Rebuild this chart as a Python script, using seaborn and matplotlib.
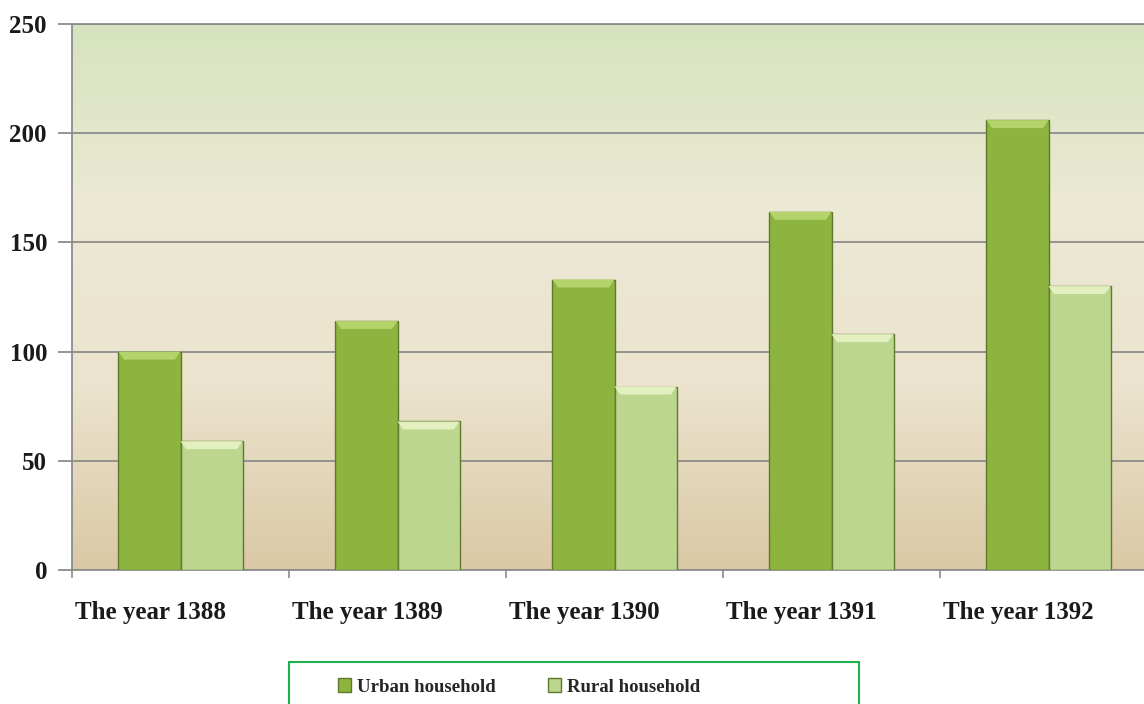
import numpy as np
import pandas as pd
import matplotlib
matplotlib.use("Agg")
import matplotlib.pyplot as plt
import matplotlib.transforms as mtransforms
import seaborn as sns
from matplotlib.colors import LinearSegmentedColormap
from matplotlib.patches import Rectangle, Polygon

years = ["The year 1388", "The year 1389", "The year 1390", "The year 1391", "The year 1392"]
urban = [100, 114, 133, 164, 206]
rural = [59, 68, 84, 108, 130]
series = ["Urban household", "Rural household"]

df = pd.DataFrame({
    "year": years * 2,
    "value": urban + rural,
    "series": [series[0]] * len(years) + [series[1]] * len(years),
})

sns.set_theme(style="white")
plt.rcParams["font.family"] = ["Liberation Serif", "DejaVu Serif"]

fig = plt.figure(figsize=(11.44, 7.04), dpi=100)
ax = fig.add_axes([72 / 1144, 134 / 704, 1085 / 1144, 546 / 704])

# background gradient
cmap = LinearSegmentedColormap.from_list("bg", ["#dbc8a6", "#ebe3cd", "#ece9d4", "#d6e3be"])
grad = np.linspace(0, 1, 256).reshape(-1, 1)
ax.imshow(grad, aspect="auto", cmap=cmap, origin="lower",
          extent=[0, 1, 0, 1], transform=ax.transAxes, zorder=0)

palette = {series[0]: "#8cb43e", series[1]: "#bcd690"}
sns.barplot(data=df, x="year", y="value", hue="series", palette=palette,
            width=0.572, gap=0, ax=ax, zorder=3, saturation=1,
            edgecolor="#5f7a2c", linewidth=1.0, legend=False)

ax.set_xlim(-0.5, 4.5)
ax.set_ylim(0, 250)

# bevel highlight on top of each bar (derived from bar geometry)
bevel_colors = {0: "#b4d36a", 1: "#e2f0bf"}
for i, p in enumerate(ax.patches[:2 * len(years)]):
    x0, w, h = p.get_x(), p.get_width(), p.get_height()
    col = bevel_colors[i // len(years)]
    dx = w * 0.09
    dy = 250 * 8 / 546
    poly = Polygon([[x0, h], [x0 + w, h], [x0 + w - dx, h - dy], [x0 + dx, h - dy]],
                   closed=True, facecolor=col, edgecolor="none", zorder=3.5)
    ax.add_patch(poly)

ax.set_yticks([0, 50, 100, 150, 200, 250])
ax.set_yticklabels(["0", "50", "100", "150", "200", "250"])
ax.yaxis.grid(True, color="#8c8c8c", linewidth=1.3, zorder=1)
ax.set_axisbelow(True)
ax.tick_params(axis="y", which="major", length=10, color="#8c8c8c", width=1.3,
               direction="out", left=True, pad=8, labelsize=18)
ax.set_xticks(range(len(years)))
ax.set_xticklabels(years)
ax.tick_params(axis="x", which="major", length=0, pad=22, labelsize=18)
ax.set_xticks(np.arange(-0.5, 4.6, 1.0), minor=True)
ax.tick_params(axis="x", which="minor", length=6, color="#8c8c8c", width=1.2,
               direction="out", bottom=True)
offset = mtransforms.ScaledTranslation(-30 / 100, 0, fig.dpi_scale_trans)
for lab in ax.get_xticklabels():
    lab.set_transform(lab.get_transform() + offset)
for lab in ax.get_xticklabels() + ax.get_yticklabels():
    lab.set_fontweight("bold")
    lab.set_color("#1a1a1a")
ax.set_xlabel("")
ax.set_ylabel("")
for s in ["left", "bottom", "top"]:
    ax.spines[s].set_color("#8c8c8c")
    ax.spines[s].set_linewidth(1.3)
ax.spines["right"].set_visible(False)

# legend
handles = [Rectangle((0, 0), 1, 1, facecolor=palette[s], edgecolor="#5f7a2c") for s in series]
leg = fig.legend(handles, series, loc="center", bbox_to_anchor=(519 / 1144, 1 - 687 / 704),
                 ncol=2, frameon=False, handlelength=0.7, handleheight=0.7,
                 handletextpad=0.3, columnspacing=2.8,
                 prop={"family": "Liberation Serif", "weight": "bold", "size": 13.5})
fig.patches.append(Rectangle((289 / 1144, -0.02), (859 - 289) / 1144, (704 - 662) / 704 + 0.02,
                             transform=fig.transFigure, fill=False,
                             edgecolor="#1fb050", linewidth=1.5))

fig.savefig("out.png", dpi=100)
